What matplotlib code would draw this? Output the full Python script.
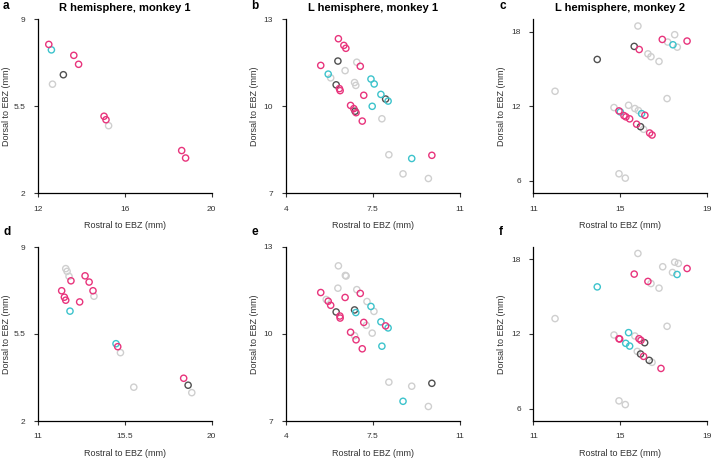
import matplotlib
matplotlib.use("Agg")
import matplotlib.pyplot as plt

plt.rcParams["font.family"] = ["Liberation Sans", "DejaVu Sans"]

PINK = "#e8347c"
CYAN = "#3cc3cc"
DARK = "#505050"
LIGHT = "#cfcfcf"

# panel a: R hemisphere, monkey 1
a_pink = [(12.51, 7.99), (13.66, 7.55), (13.88, 7.19), (15.05, 5.10), (15.14, 4.96),
          (18.62, 3.72), (18.80, 3.42)]
a_cyan = [(12.63, 7.77)]
a_dark = [(13.18, 6.77)]
a_light = [(12.68, 6.39), (15.26, 4.72)]

# panel b: L hemisphere, monkey 1
b_pink = [(6.12, 12.33), (6.34, 12.10), (6.42, 12.0), (5.41, 11.41), (7.0, 11.38),
          (6.16, 10.61), (6.19, 10.54), (7.14, 10.38), (6.61, 10.03), (6.74, 9.92),
          (6.83, 9.78), (7.08, 9.49), (9.88, 8.31)]
b_cyan = [(5.71, 11.11), (7.43, 10.94), (7.56, 10.77), (7.83, 10.41), (8.12, 10.18),
          (7.48, 10.0), (9.07, 8.20)]
b_dark = [(6.10, 11.56), (6.03, 10.74), (8.02, 10.25), (6.79, 9.83)]
b_light = [(6.86, 11.52), (6.39, 11.23), (5.81, 10.98), (6.77, 10.82), (6.82, 10.72),
           (7.87, 9.57), (8.15, 8.33), (8.72, 7.67), (9.74, 7.51)]

# panel c: L hemisphere, monkey 2
c_pink = [(16.93, 17.38), (18.07, 17.25), (15.87, 16.57), (14.94, 11.63), (16.13, 11.28),
          (15.17, 11.25), (15.26, 11.15), (15.43, 10.99), (15.75, 10.56), (16.35, 9.85),
          (16.46, 9.69)]
c_cyan = [(17.42, 16.95), (15.0, 11.55), (15.98, 11.41)]
c_dark = [(15.64, 16.82), (13.94, 15.77), (15.93, 10.36)]
c_light = [(15.81, 18.46), (17.5, 17.76), (17.18, 17.17), (17.62, 16.76), (16.27, 16.22),
           (16.41, 15.99), (16.78, 15.61), (12.0, 13.21), (17.15, 12.62), (15.38, 12.08),
           (14.71, 11.90), (15.67, 11.82), (15.83, 11.66), (16.07, 10.15), (14.94, 6.57),
           (15.23, 6.22)]

# panel d
d_pink = [(12.72, 7.64), (13.45, 7.84), (13.66, 7.59), (12.24, 7.24), (13.86, 7.24),
          (12.38, 6.98), (12.45, 6.86), (13.17, 6.79), (15.14, 4.99), (18.55, 3.72)]
d_cyan = [(12.67, 6.42), (15.05, 5.11)]
d_dark = [(18.78, 3.44)]
d_light = [(12.45, 8.13), (12.52, 8.02), (12.62, 7.82), (13.91, 7.02), (15.28, 4.75),
           (15.97, 3.36), (18.97, 3.14)]

# panel e
e_pink = [(5.41, 11.43), (7.0, 11.40), (6.39, 11.26), (5.71, 11.13), (5.81, 10.99),
          (6.18, 10.62), (6.19, 10.55), (7.14, 10.40), (8.02, 10.28), (6.61, 10.06),
          (6.83, 9.80), (7.08, 9.49)]
e_cyan = [(7.43, 10.95), (6.82, 10.74), (7.83, 10.42), (8.12, 10.21), (7.87, 9.58),
          (8.72, 7.68)]
e_dark = [(6.77, 10.83), (6.03, 10.76), (9.88, 8.30)]
e_light = [(6.12, 12.35), (6.40, 12.02), (6.43, 12.0), (6.10, 11.58), (6.86, 11.53),
           (5.63, 11.19), (7.27, 11.12), (7.55, 10.78), (7.24, 10.30), (7.48, 10.03),
           (6.77, 9.94), (8.15, 8.34), (9.07, 8.20), (9.74, 7.50)]

# panel f
f_pink = [(18.07, 17.27), (15.64, 16.82), (16.27, 16.23), (14.94, 11.62), (14.97, 11.60),
          (15.86, 11.62), (15.95, 11.49), (16.07, 10.20), (16.87, 9.23)]
f_cyan = [(17.61, 16.79), (13.94, 15.79), (15.38, 12.11), (15.25, 11.25), (15.43, 11.03)]
f_dark = [(16.12, 11.30), (15.93, 10.39), (16.33, 9.88)]
f_light = [(15.81, 18.48), (17.5, 17.78), (17.67, 17.68), (16.95, 17.41), (17.40, 16.95),
           (16.41, 16.06), (16.78, 15.69), (12.0, 13.24), (17.15, 12.62), (14.71, 11.92),
           (15.67, 11.84), (15.78, 10.60), (16.46, 9.72), (14.94, 6.62), (15.23, 6.32)]

panels = [
    ("a", "R hemisphere, monkey 1", (a_light, a_dark, a_cyan, a_pink), (12, 20), [12, 16, 20], (2, 9), [2, 5.5, 9]),
    ("b", "L hemisphere, monkey 1", (b_light, b_dark, b_cyan, b_pink), (4, 11), [4, 7.5, 11], (7, 13), [7, 10, 13]),
    ("c", "L hemisphere, monkey 2", (c_light, c_dark, c_cyan, c_pink), (11, 19), [11, 15, 19], (5, 19), [6, 12, 18]),
    ("d", "", (d_light, d_dark, d_cyan, d_pink), (11, 20), [11, 15.5, 20], (2, 9), [2, 5.5, 9]),
    ("e", "", (e_light, e_dark, e_cyan, e_pink), (4, 11), [4, 7.5, 11], (7, 13), [7, 10, 13]),
    ("f", "", (f_light, f_dark, f_cyan, f_pink), (11, 19), [11, 15, 19], (5, 19), [6, 12, 18]),
]
colors = [LIGHT, DARK, CYAN, PINK]

fig = plt.figure(figsize=(7.12, 4.58), dpi=100)
W, H = 712, 458
lefts = [37.7, 285.7, 533.3]
tops = [19.3, 247]
letter_x = [3, 251, 499]
letter_y = [6, 232]
aw, ah = 174, 174

for i, (letter, title, groups, xl, xt, yl, yt) in enumerate(panels):
    r, c = divmod(i, 3)
    ax = fig.add_axes([lefts[c] / W, 1 - (tops[r] + ah) / H, aw / W, ah / H])
    for pts, col in zip(groups, colors):
        xs = [p[0] for p in pts]
        ys = [p[1] for p in pts]
        ax.scatter(xs, ys, s=20, facecolors="none", edgecolors=col, linewidths=1.0, zorder=3)
    ax.set_xlim(xl)
    ax.set_ylim(yl)
    ax.set_xticks(xt)
    ax.set_yticks(yt)
    ax.set_xticklabels([f"{v:g}" for v in xt])
    ax.set_yticklabels([f"{v:g}" for v in yt])
    for s in ["top", "right"]:
        ax.spines[s].set_visible(False)
    for s in ["left", "bottom"]:
        ax.spines[s].set_linewidth(0.9)
    ax.tick_params(direction="out", length=3, width=0.8, labelsize=6, pad=6, colors="#333333")
    ax.set_xlabel("Rostral to EBZ (mm)", fontsize=6.5, color="#333333")
    ax.set_ylabel("Dorsal to EBZ (mm)", fontsize=6.5, color="#333333")
    ax.xaxis.set_label_coords(0.5, -28 / ah)
    ax.yaxis.set_label_coords(-27 / aw, 0.5)
    if title:
        ax.set_title(title, fontsize=8, fontweight="bold", pad=6)
    fig.text(letter_x[c] / W, 1 - letter_y[r] / H, letter, fontsize=8.5,
             fontweight="bold", ha="left", va="center")

fig.savefig("out.png", dpi=100)
